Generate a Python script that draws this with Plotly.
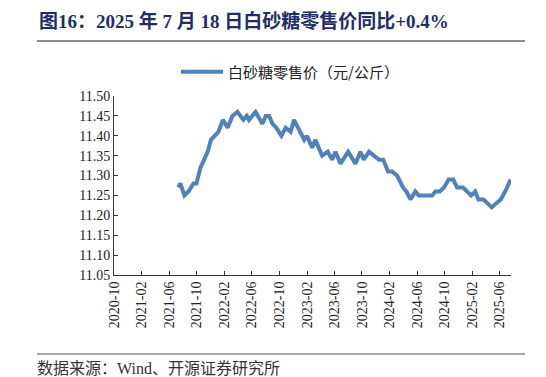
import plotly.graph_objects as go

dates = [
    "2021-07-12", "2021-07-21", "2021-08-08", "2021-08-26", "2021-09-17", "2021-09-30",
    "2021-10-18", "2021-11-04", "2021-11-19", "2021-12-03", "2021-12-21", "2022-01-05",
    "2022-01-25", "2022-02-15", "2022-03-08", "2022-03-30", "2022-04-25", "2022-05-10",
    "2022-05-20", "2022-06-01", "2022-06-18", "2022-07-18", "2022-08-02", "2022-08-17",
    "2022-09-01", "2022-09-18", "2022-10-10", "2022-10-29", "2022-11-20", "2022-12-05",
    "2022-12-24", "2023-01-19", "2023-01-31", "2023-02-23", "2023-03-09", "2023-04-08",
    "2023-05-03", "2023-05-22", "2023-06-06", "2023-06-28", "2023-08-01", "2023-09-02",
    "2023-09-24", "2023-10-09", "2023-11-01", "2023-11-23", "2023-12-15", "2024-01-03",
    "2024-01-24", "2024-02-11", "2024-03-04", "2024-03-30", "2024-04-14", "2024-05-02",
    "2024-05-24", "2024-06-08", "2024-07-05", "2024-08-06", "2024-08-20", "2024-09-09",
    "2024-09-27", "2024-10-18", "2024-11-07", "2024-11-24", "2024-12-20", "2025-01-07",
    "2025-01-25", "2025-02-12", "2025-02-26", "2025-03-20", "2025-04-07", "2025-04-26",
    "2025-05-15", "2025-06-05", "2025-06-29", "2025-07-18",
]
prices = [
    11.27, 11.28, 11.25, 11.26, 11.28, 11.28,
    11.32, 11.34, 11.36, 11.39, 11.40, 11.41,
    11.44, 11.42, 11.45, 11.46, 11.44, 11.45,
    11.44, 11.45, 11.46, 11.43, 11.45, 11.45,
    11.43, 11.42, 11.40, 11.42, 11.41, 11.44,
    11.42, 11.39, 11.40, 11.37, 11.39, 11.35,
    11.36, 11.34, 11.36, 11.33, 11.36, 11.33,
    11.36, 11.34, 11.36, 11.35, 11.34, 11.34,
    11.31, 11.31, 11.30, 11.27, 11.26, 11.24,
    11.26, 11.25, 11.25, 11.25, 11.26, 11.26,
    11.27, 11.29, 11.29, 11.27, 11.27, 11.26,
    11.25, 11.26, 11.24, 11.24, 11.23, 11.22,
    11.23, 11.24, 11.265, 11.29,
]
tick_dates = [
    "2020-10-01", "2021-02-01", "2021-06-01", "2021-10-01", "2022-02-01",
    "2022-06-01", "2022-10-01", "2023-02-01", "2023-06-01", "2023-10-01",
    "2024-02-01", "2024-06-01", "2024-10-01", "2025-02-01", "2025-06-01",
]
tick_labels = [d[:7] for d in tick_dates]

series_name = "白砂糖零售价（元/公斤）"
title_text = "图16：2025 年 7 月 18 日白砂糖零售价同比+0.4%"
source_text = "数据来源：Wind、开源证券研究所"

serif = "'Liberation Serif', 'Times New Roman', 'Noto Sans CJK SC', serif"
cjk = "'Noto Sans CJK SC', sans-serif"

fig = go.Figure()
fig.add_trace(go.Scatter(
    x=dates, y=prices, mode="lines", name=series_name,
    line=dict(color="#4F81BD", width=4, shape="linear"),
))

W, H = 546, 377
L, R, T, B = 106, 43, 88, 110
pw, ph = W - L - R, H - T - B

def px(xp):
    return (xp - L) / pw

def py(yp):
    return (H - B - yp) / ph

fig.update_layout(
    width=W, height=H,
    margin=dict(l=L, r=R, t=T, b=B, autoexpand=False),
    paper_bgcolor="white", plot_bgcolor="white",
    showlegend=True,
    legend=dict(
        orientation="h", x=px(282), y=py(64), xanchor="center", yanchor="middle",
        font=dict(family=cjk, size=15, color="#222222"),
        itemwidth=42,
        bgcolor="rgba(0,0,0,0)",
    ),
    xaxis=dict(
        type="date",
        range=["2020-10-01", "2025-07-20"],
        tickmode="array", tickvals=tick_dates, ticktext=tick_labels,
        tickangle=-90,
        tickfont=dict(family=serif, size=14, color="#222222"),
        showline=True, linecolor="#333333", linewidth=1,
        ticks="inside", ticklen=4, tickcolor="#333333",
        showgrid=False, zeroline=False,
    ),
    yaxis=dict(
        range=[11.05, 11.50],
        tickmode="linear", tick0=11.05, dtick=0.05, tickformat=".2f",
        tickfont=dict(family=serif, size=14, color="#222222"),
        showline=True, linecolor="#333333", linewidth=1,
        ticks="inside", ticklen=4, tickcolor="#333333",
        showgrid=False, zeroline=False,
    ),
    shapes=[
        dict(type="line", xref="paper", yref="paper",
             x0=px(29), x1=px(517), y0=py(33), y1=py(33),
             line=dict(color="#8C8C8C", width=2)),
        dict(type="line", xref="paper", yref="paper",
             x0=px(29), x1=px(517), y0=py(346), y1=py(346),
             line=dict(color="#8C8C8C", width=1.5)),
    ],
    annotations=[
        dict(text="<b>" + title_text + "</b>", xref="paper", yref="paper",
             x=px(29), y=py(13), xanchor="left", yanchor="middle", showarrow=False,
             font=dict(family=serif, size=19, color="#1F2D6B")),
        dict(text=source_text, xref="paper", yref="paper",
             x=px(27), y=py(360), xanchor="left", yanchor="middle", showarrow=False,
             font=dict(family=serif, size=16, color="#333333")),
    ],
)

fig.write_html("out.html")
